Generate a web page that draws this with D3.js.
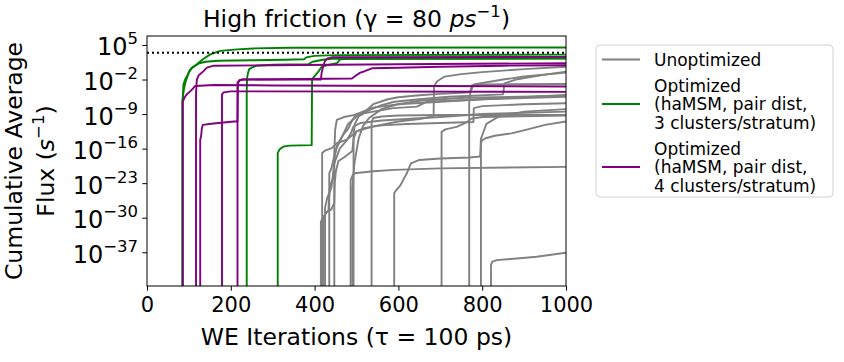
<!DOCTYPE html>
<html>
<head>
<meta charset="utf-8">
<script src="https://cdn.jsdelivr.net/npm/d3@7"></script>
<style>
  body { margin: 0; background: #fff; }
  text { font-family: "DejaVu Sans", sans-serif; fill: #000; }
</style>
</head>
<body>
<svg id="chart" width="844" height="362"></svg>
<script>
// x ticks (WE iterations) and y ticks (powers of ten)
const iterTicks = [0, 200, 400, 600, 800, 1000];
const fluxTickExps = [5, -2, -9, -16, -23, -30, -37];
const targetFluxExp = 3.45; // dotted reference line, log10(flux)

// each trace: [iteration, log10(cumulative average flux)]
const unoptimized = [
  [[415,-30.8],[421,-29.8],[430,-28.8],[440,-28.3],[447,-27],[448,-23],[451,-20.5],[457,-18.5],[470,-17.8],[490,-16.5],[493,-14],[500,-12.5],[520,-11.8],[560,-11.3],[620,-11],[700,-10.8],[779,-10.6],[780,-7.8],[800,-7.4],[900,-7.0],[1000,-6.8]],
  [[418,-16.9],[425,-16.4],[441,-15.9],[453,-14.9],[477,-14.2],[486,-13.0],[493,-11.5],[510,-10.8],[560,-10.3],[620,-10.0],[700,-9.6],[800,-9.0],[1000,-8.5]],
  [[421,-30.5],[426,-29],[433,-28.6],[436,-24],[440,-22.8],[445,-22],[447,-18],[452,-16],[466,-13.5],[480,-11],[500,-9.5],[520,-8.5],[540,-7.0],[575,-6.0],[600,-5.6],[650,-5.2],[700,-4.9],[771,-4.6],[775,-3.2],[800,-3.0],[1000,-2.9]],
  [[425,-28],[430,-26],[440,-24],[447,-19],[460,-16],[480,-14],[500,-12.5],[540,-11.5],[600,-10.5],[650,-10],[684,-9.5],[685,-3.4],[692,-2.4],[710,-1.4],[750,-0.9],[800,-0.5],[900,0.1],[1000,0.6]],
  [[435,-21],[440,-20],[447,-17.5],[455,-15],[470,-13],[480,-12],[490,-10.2],[500,-9],[540,-7.7],[600,-7.0],[700,-6.5],[800,-6.0],[1000,-5.5]],
  [[447,-16.9],[449,-12.2],[453,-10.2],[470,-9.6],[493,-9.2],[540,-8.5],[588,-7.8],[644,-7.5],[668,-6.5],[779,-6.1],[1000,-5.1]],
  [[486,-22.4],[490,-21.5],[495,-21],[540,-20.6],[590,-20.3],[700,-20.0],[1000,-19.7]],
  [[490,-24],[495,-19],[505,-14],[515,-11.5],[530,-9.8],[560,-8.0],[600,-7.0],[650,-6.3],[700,-6.0],[760,-5.7],[1000,-5.3]],
  [[493,-13],[496,-11],[505,-9.5],[530,-8.2],[560,-7.2],[590,-6.5],[650,-6],[720,-5.5],[850,-5.0],[853,-2.8],[880,-2.0],[950,-1.0],[1000,-0.4]],
  [[536,-10.6],[540,-9.8],[560,-9.5],[600,-9.3],[700,-9.2],[1000,-9.2]],
  [[590,-25],[595,-24.4],[605,-23.4],[620,-21],[630,-19],[650,-18.3],[700,-18],[770,-17.8],[795,-17.6],[797,-14],[810,-11],[840,-9.5],[900,-8.5],[1000,-8.0]],
  [[703,-12.6],[712,-12.1],[739,-11.6],[760,-10.8],[775,-9.9],[800,-9.6],[1000,-9.3]],
  [[769,-6.8],[772,-4.5],[780,-3.0],[800,-2.7],[850,-2.0],[900,-1.4],[1000,-0.6]],
  [[797,-14.9],[800,-14.3],[808,-13.9],[830,-13.4],[870,-12.9],[918,-11.9],[950,-11.2],[1000,-10.5]],
  [[821,-39.6],[824,-38.9],[835,-38.6],[930,-37.9],[1000,-37.1]]
];

const optimized3 = [
  [[85,-6.5],[87,-3],[91,-2],[97,-1.1],[101,-0.3],[107,0.4],[119,1.1],[135,2.2],[151,3.1],[175,3.8],[215,4.1],[254,4.3],[340,4.45],[1000,4.5]],
  [[85,-6],[88,-4],[92,-2.5],[96,-1.5],[100,-0.5],[107,0.3],[115,0.8],[125,1.3],[140,1.6],[170,1.8],[250,1.9],[330,2.0],[375,2.1],[380,2.5],[400,2.8],[450,2.95],[1000,3.05]],
  [[238,-4.1],[239,-1.6],[241,-0.7],[244,0.1],[250,0.4],[262,0.8],[300,1.0],[385,1.1],[395,1.6],[420,2.0],[440,2.2],[1000,2.25]],
  [[312,-16.9],[316,-16.2],[325,-15.6],[340,-15.4],[393,-15.3],[394,-2.1],[397,-1.6],[409,-0.4],[417,0.6],[429,0.9],[453,1.3],[461,2.1],[480,2.2],[1000,2.3]]
];

const optimized4 = [
  [[85,-6.5],[87,-6.2],[90,-5.6],[95,-5.0],[103,-4.4],[110,-3.8],[115,-3.3],[160,-3.1],[300,-3.2],[1000,-3.4]],
  [[117,-4.8],[118,-3.3],[119,-2],[123,-1.2],[135,-0.3],[143,0.4],[159,0.8],[300,0.9],[600,1.1],[1000,1.3]],
  [[127,-14.2],[129,-13.5],[131,-11.9],[133,-11.2],[159,-10.9],[207,-10.5],[216,-10.5],[217,-2.8],[220,-2.2],[228,-2.0],[415,-2.0],[417,-0.5],[421,0.8],[425,1.8],[431,2.3],[441,2.5],[1000,2.6]],
  [[179,-5.0],[183,-4.6],[200,-4.4],[1000,-4.5]],
  [[216,-2.6],[222,-2.1],[230,-2.0],[489,-1.8],[497,-1.3],[509,-0.6],[521,-0.27],[537,0.28],[600,0.4],[700,0.6],[850,0.8],[1000,0.9]]
];

const legendItems = [
  { lines: ["Unoptimized"], color: "gray" },
  { lines: ["Optimized", "(haMSM, pair dist,", "3 clusters/stratum)"], color: "green" },
  { lines: ["Optimized", "(haMSM, pair dist,", "4 clusters/stratum)"], color: "purple" }
];

const svg = d3.select("#chart");
const plotLeft = 147, plotRight = 566, plotTop = 36, plotBottom = 286;
const fluxFloor = -60; // zero flux, drawn below the frame

const x = d3.scaleLinear().domain([0, 1000]).range([plotLeft, plotRight]);
const y = d3.scaleLog().domain([Math.pow(10, -43.84), Math.pow(10, 6.82)]).range([plotBottom, plotTop]);

svg.append("clipPath").attr("id", "plotclip")
  .append("rect").attr("x", plotLeft).attr("y", plotTop)
  .attr("width", plotRight - plotLeft).attr("height", plotBottom - plotTop);

const line = d3.line()
  .x(d => x(d[0]))
  .y(d => y(Math.pow(10, d[1])));

function tracePath(s) {
  const pts = [[s[0][0], fluxFloor], ...s];
  const last = s[s.length - 1];
  if (last[0] < 1000) pts.push([1000, last[1]]);
  return line(pts);
}

const plot = svg.append("g").attr("clip-path", "url(#plotclip)");

[[unoptimized, "gray"], [optimized3, "green"], [optimized4, "purple"]].forEach(([group, color]) => {
  plot.append("g").selectAll("path")
    .data(group)
    .join("path")
    .attr("d", tracePath)
    .attr("fill", "none")
    .attr("stroke", color)
    .attr("stroke-width", 1.9)
    .attr("stroke-linejoin", "round");
});

plot.append("line")
  .attr("x1", x(0)).attr("x2", x(1000))
  .attr("y1", y(Math.pow(10, targetFluxExp))).attr("y2", y(Math.pow(10, targetFluxExp)))
  .attr("stroke", "#000")
  .attr("stroke-width", 2)
  .attr("stroke-dasharray", "2,3");

// x axis
const xAxis = svg.append("g")
  .attr("transform", `translate(0,${plotBottom})`)
  .call(d3.axisBottom(x).tickValues(iterTicks).tickSize(4.7).tickPadding(6.5).tickFormat(d3.format("d")));
xAxis.select(".domain").remove();
xAxis.selectAll("line").attr("stroke", "#000").attr("stroke-width", 1);
xAxis.selectAll("text").attr("font-size", 21).attr("font-family", "DejaVu Sans").attr("fill", "#000");

// y axis with 10^n labels
const yAxis = svg.append("g")
  .attr("transform", `translate(${plotLeft},0)`)
  .call(d3.axisLeft(y).tickValues(fluxTickExps.map(e => Math.pow(10, e))).tickSize(4.7).tickFormat(""));
yAxis.select(".domain").remove();
yAxis.selectAll("line").attr("stroke", "#000").attr("stroke-width", 1);
yAxis.selectAll(".tick").each(function(d, i) {
  const t = d3.select(this).append("text")
    .attr("x", -9).attr("y", 10)
    .attr("text-anchor", "end")
    .attr("font-size", 24);
  t.append("tspan").text("10");
  t.append("tspan").attr("font-size", 16.5).attr("dy", -11)
    .text(String(fluxTickExps[i]).replace("-", "\u2212"));
});

// frame
svg.append("rect")
  .attr("x", plotLeft).attr("y", plotTop)
  .attr("width", plotRight - plotLeft).attr("height", plotBottom - plotTop)
  .attr("fill", "none").attr("stroke", "#000").attr("stroke-width", 1);

// title
const title = svg.append("text")
  .attr("x", (plotLeft + plotRight) / 2).attr("y", 26.5)
  .attr("text-anchor", "middle").attr("font-size", 23.5);
title.append("tspan").text("High friction (\u03b3 = 80 ");
title.append("tspan").attr("font-style", "italic").text("ps");
title.append("tspan").attr("font-size", 16.5).attr("dy", -10).text("\u22121");
title.append("tspan").attr("dy", 10).text(")");

// axis labels
svg.append("text")
  .attr("x", (plotLeft + plotRight) / 2).attr("y", 345)
  .attr("text-anchor", "middle").attr("font-size", 23.5)
  .text("WE Iterations (\u03c4 = 100 ps)");

const yl = svg.append("g").attr("transform", "translate(0,161) rotate(-90)");
yl.append("text").attr("x", 0).attr("y", 22).attr("text-anchor", "middle").attr("font-size", 23.5)
  .text("Cumulative Average");
const yl2 = yl.append("text").attr("x", 0).attr("y", 54).attr("text-anchor", "middle").attr("font-size", 23.5);
yl2.append("tspan").text("Flux (");
yl2.append("tspan").attr("font-style", "italic").text("s");
yl2.append("tspan").attr("font-size", 16.5).attr("dy", -10).text("\u22121");
yl2.append("tspan").attr("dy", 10).text(")");

// legend
const lg = svg.append("g");
lg.append("rect")
  .attr("x", 596).attr("y", 45).attr("width", 237).attr("height", 152)
  .attr("rx", 4).attr("fill", "#fff").attr("stroke", "#d0d0d0").attr("stroke-width", 1);
const rowGap = 18.5;
let rowY = 59.5;
legendItems.forEach(item => {
  const n = item.lines.length;
  const midY = rowY + (n - 1) * rowGap / 2;
  lg.append("line")
    .attr("x1", 602).attr("x2", 640).attr("y1", midY).attr("y2", midY)
    .attr("stroke", item.color).attr("stroke-width", 1.9);
  item.lines.forEach((s, k) => {
    lg.append("text")
      .attr("x", 654).attr("y", rowY + k * rowGap)
      .attr("dy", "0.36em").attr("font-size", 17)
      .text(s);
  });
  rowY += n * rowGap + 7.5;
});
</script>
</body>
</html>
